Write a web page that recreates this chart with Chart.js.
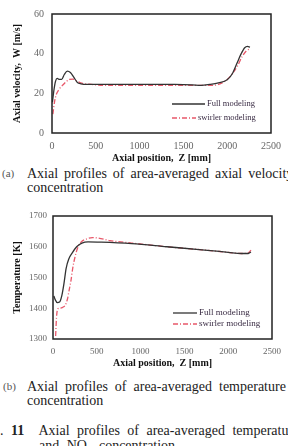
<!DOCTYPE html>
<html>
<head>
<meta charset="utf-8">
<script src="https://cdn.jsdelivr.net/npm/chart.js@4"></script>
<style>
  body { margin: 0; width: 288px; height: 446px; overflow: hidden; background: #fff; position: relative; font-family: "Liberation Serif", serif; }
  .box { position: absolute; left: 0; width: 288px; }
  .cap { position: absolute; white-space: nowrap; font-size: 14px; line-height: 15px; color: #222; }
  .tag { position: absolute; font-size: 11px; line-height: 12px; color: #555; white-space: nowrap; }
</style>
</head>
<body>
<div class="box" style="top:0;height:165px"><canvas id="velocity-chart"></canvas></div>
<div class="box" style="top:200px;height:170px"><canvas id="temp-chart"></canvas></div>

<div class="tag" style="left:2px;top:167px">(a)</div>
<div class="cap" style="left:27px;top:166px;word-spacing:2.5px">Axial profiles of area-averaged axial velocity</div>
<div class="cap" style="left:27px;top:180px">concentration</div>

<div class="tag" style="left:3px;top:380px">(b)</div>
<div class="cap" style="left:27px;top:379px;word-spacing:3.5px">Axial profiles of area-averaged temperature</div>
<div class="cap" style="left:27px;top:393px">concentration</div>

<div class="cap" style="left:0px;top:423px;word-spacing:4px">. <b>11</b>&nbsp; Axial profiles of area-averaged temperatu</div>
<div class="cap" style="left:39px;top:438px;word-spacing:4px">and NO<sub style="font-size:9px">x</sub> concentration</div>

<script>
// velocity data (a)
let velFullZ = [5, 20, 40, 60, 85, 110, 140, 175, 210, 250, 290, 330, 400, 600, 1000, 1400, 1600, 1700, 1800, 1900, 2000, 2060, 2110, 2160, 2200, 2230, 2260];
let velFullW = [15.5, 21, 26, 27.5, 27, 27, 29.5, 31.2, 30.5, 28, 25.5, 24.8, 24.5, 24.5, 24.5, 24.5, 24.3, 24.0, 24.5, 25.3, 26.8, 30, 35, 40, 43, 43.7, 43.3];
let velSwirlZ = [10, 30, 50, 80, 120, 160, 200, 240, 290, 350, 450, 600, 1000, 1400, 1800, 1900, 2000, 2060, 2120, 2170, 2220, 2260];
let velSwirlW = [9.5, 16, 19.5, 22, 24, 25.8, 27, 27.2, 26, 25, 24.5, 24, 24, 24, 24, 24.5, 27, 30, 34, 38.5, 41.5, 42.5];

// temperature data (b)
let tempFullZ = [10, 25, 50, 75, 100, 125, 150, 180, 220, 270, 330, 400, 550, 900, 1300, 1700, 2000, 2150, 2230, 2260];
let tempFullT = [1440, 1428, 1418, 1420, 1440, 1480, 1530, 1560, 1580, 1600, 1612, 1616, 1615, 1610, 1600, 1590, 1582, 1578, 1578, 1583];
let tempSwirlZ = [30, 40, 55, 80, 110, 140, 165, 185, 205, 225, 250, 280, 320, 380, 450, 520, 650, 900, 1300, 1700, 2000, 2150, 2230, 2260];
let tempSwirlT = [1310, 1370, 1398, 1400, 1403, 1410, 1430, 1460, 1490, 1530, 1565, 1595, 1615, 1625, 1630, 1628, 1620, 1612, 1600, 1590, 1582, 1578, 1580, 1589];

let seriesNames = ['Full modeling', 'swirler modeling'];
let zTicks = [0, 500, 1000, 1500, 2000, 2500];

function toPoints(xs, ys) {
    return xs.map((x, i) => ({ x: x, y: ys[i] }));
}

//frame round the plot area + legend inside it
const framePlugin = {
    id: 'frame',
    afterDraw(chart, args, opts) {
        const ctx = chart.ctx;
        const a = chart.chartArea;
        ctx.save();
        ctx.strokeStyle = '#222';
        ctx.lineWidth = 1.5;
        ctx.strokeRect(a.left, a.top, a.right - a.left, a.bottom - a.top);
        // legend
        ctx.font = opts.fontSize + 'px "Liberation Serif"';
        ctx.textBaseline = 'middle';
        chart.data.datasets.forEach((ds, i) => {
            const row = opts.rows[i];
            ctx.strokeStyle = ds.borderColor;
            ctx.lineWidth = ds.borderWidth;
            ctx.setLineDash(ds.borderDash || []);
            ctx.beginPath();
            ctx.moveTo(row.x, row.y);
            ctx.lineTo(row.x + row.len, row.y);
            ctx.stroke();
            ctx.setLineDash([]);
            ctx.fillStyle = '#3a2c44';
            ctx.fillText(ds.label, row.x + row.len + 2, row.y);
        });
        ctx.restore();
    }
};

function makeChart(canvasId, cfg) {
    const canvas = document.getElementById(canvasId);
    return new Chart(canvas, {
        type: 'line',
        data: {
            datasets: [{
                label: seriesNames[0],
                data: toPoints(cfg.fullX, cfg.fullY),
                borderColor: '#333',
                borderWidth: 1.3,
                pointRadius: 0,
                cubicInterpolationMode: 'monotone'
            }, {
                label: seriesNames[1],
                data: toPoints(cfg.swirlX, cfg.swirlY),
                borderColor: '#e8586a',
                borderWidth: 1.3,
                borderDash: [5, 2, 1, 2],
                pointRadius: 0,
                cubicInterpolationMode: 'monotone'
            }]
        },
        options: {
            responsive: true,
            maintainAspectRatio: false,
            animation: false,
            layout: { padding: cfg.padding },
            scales: {
                x: {
                    type: 'linear',
                    min: 0,
                    max: 2500,
                    afterBuildTicks: (s) => { s.ticks = zTicks.map(v => ({ value: v })); },
                    afterFit: (s) => { s.height = cfg.xHeight; },
                    grid: { display: false, drawTicks: false },
                    border: { display: false },
                    ticks: { color: '#666', padding: 7, maxRotation: 0, callback: v => String(v), font: { family: 'Liberation Serif', size: cfg.tickSize } },
                    title: { display: true, text: 'Axial position,  Z [mm]', color: '#111', padding: { top: 0, bottom: 1 }, font: { family: 'Liberation Serif', size: 10, weight: 'bold' } }
                },
                y: {
                    min: cfg.yMin,
                    max: cfg.yMax,
                    afterBuildTicks: (s) => { s.ticks = cfg.yTicks.map(v => ({ value: v })); },
                    afterFit: (s) => { s.width = cfg.yWidth; },
                    grid: { display: false, drawTicks: false },
                    border: { display: false },
                    ticks: { color: '#666', padding: cfg.yPad, callback: v => String(v), font: { family: 'Liberation Serif', size: cfg.tickSize } },
                    title: { display: true, text: cfg.yTitle, color: '#111', padding: { top: 11, bottom: 0 }, font: { family: 'Liberation Serif', size: 10, weight: 'bold' } }
                }
            },
            plugins: {
                legend: { display: false },
                tooltip: { enabled: false },
                frame: { rows: cfg.legendRows, fontSize: cfg.legendSize }
            }
        },
        plugins: [framePlugin]
    });
}

function drawAll() {
    makeChart('velocity-chart', {
        fullX: velFullZ, fullY: velFullW, swirlX: velSwirlZ, swirlY: velSwirlW,
        yMin: 0, yMax: 60, yTicks: [0, 20, 40, 60],
        yTitle: 'Axial velocity,  W [m/s]',
        padding: { top: 12, right: 13, left: 0, bottom: 0 },
        xHeight: 32, yWidth: 52, yPad: 8, tickSize: 10, legendSize: 8.5,
        legendRows: [{ x: 172, y: 104, len: 33 }, { x: 172, y: 118, len: 24 }]
    });

    makeChart('temp-chart', {
        fullX: tempFullZ, fullY: tempFullT, swirlX: tempSwirlZ, swirlY: tempSwirlT,
        yMin: 1300, yMax: 1700, yTicks: [1300, 1400, 1500, 1600, 1700],
        yTitle: 'Temperature [K]',
        padding: { top: 16, right: 14, left: 0, bottom: 0 },
        xHeight: 31, yWidth: 53, yPad: 6, tickSize: 9, legendSize: 9,
        legendRows: [{ x: 173, y: 113, len: 24 }, { x: 173, y: 124, len: 24 }]
    });
}

Promise.all([
    document.fonts.load('10px "Liberation Serif"'),
    document.fonts.load('bold 10px "Liberation Serif"')
]).then(drawAll, drawAll);
</script>
</body>
</html>
